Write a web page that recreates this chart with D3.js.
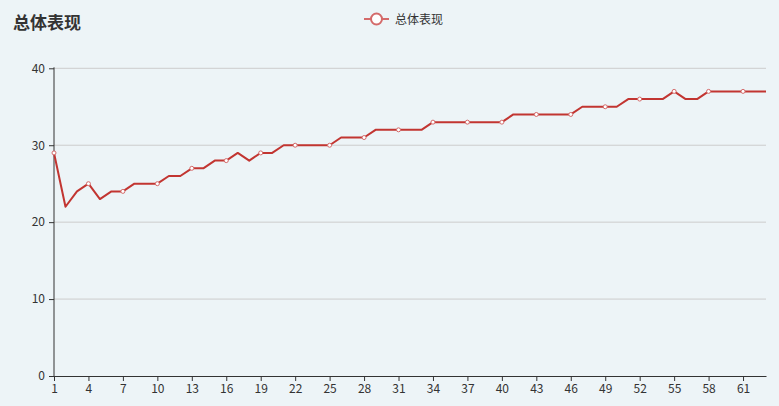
<!DOCTYPE html>
<html><head><meta charset="utf-8">
<script src="https://cdn.jsdelivr.net/npm/d3@7/dist/d3.min.js"></script>
<style>
html,body{margin:0;padding:0;background:#edf4f7;}
svg{display:block;font-family:"Microsoft YaHei","Noto Sans CJK SC",sans-serif;}
</style></head>
<body>
<svg id="chart" width="779" height="406"></svg>
<script>
const title = "总体表现";
const seriesName = "总体表现";
const categories = d3.range(1, 64).map(String);
const values = [29,22,24,25,23,24,24,25,25,25,26,26,27,27,28,28,29,28,29,29,
  30,30,30,30,30,31,31,31,32,32,32,32,32,33,33,33,33,33,33,33,
  34,34,34,34,34,34,35,35,35,35,36,36,36,36,37,36,36,37,37,37,37,37,37];
const yTicks = [0,10,20,30,40];

(function(){
const svg = d3.select("#chart");
const gLeft = 54, gRight = 766, gTop = 68.3, gBottom = 376;
const x = d3.scalePoint().domain(categories).range([gLeft, gRight]);
const y = d3.scaleLinear().domain([0, 40]).range([gBottom, gTop]);
const color = "#c23531";
const ff = "'Microsoft YaHei','Noto Sans CJK SC',sans-serif";

// grid
svg.append("g").selectAll("line").data(yTicks.filter(d => d > 0)).join("line")
  .attr("x1", gLeft).attr("x2", gRight)
  .attr("y1", d => y(d)).attr("y2", d => y(d))
  .attr("stroke", "#ccc").attr("stroke-width", 1);

// y axis
const yAxis = svg.append("g").attr("transform", `translate(${gLeft},0)`)
  .call(d3.axisLeft(y).tickValues(yTicks).tickSize(5).tickPadding(4));
yAxis.select(".domain").remove();
yAxis.selectAll("line").attr("stroke", "#333");
yAxis.selectAll("text").attr("fill", "#333").attr("font-size", 12).attr("font-family", ff);
svg.append("line").attr("x1", gLeft).attr("x2", gLeft).attr("y1", gTop - 1).attr("y2", gBottom)
  .attr("stroke", "#333");

// x axis
const xTickVals = categories.filter((d, i) => i % 3 === 0);
const xAxis = svg.append("g").attr("transform", `translate(0,${gBottom})`)
  .call(d3.axisBottom(x).tickValues(xTickVals).tickSize(5).tickPadding(3).tickSizeOuter(0));
xAxis.select(".domain").attr("stroke", "#333");
xAxis.selectAll("line").attr("stroke", "#333");
xAxis.selectAll("text").attr("fill", "#333").attr("font-size", 12).attr("font-family", ff);

// line
const line = d3.line().x((d, i) => x(categories[i])).y(d => y(d));
svg.append("path").datum(values).attr("d", line)
  .attr("fill", "none").attr("stroke", color).attr("stroke-width", 2)
  .attr("stroke-linejoin", "round");

// symbols every 3rd point
svg.append("g").selectAll("circle")
  .data(values.map((v, i) => ({v, i})).filter(d => d.i % 3 === 0))
  .join("circle")
  .attr("cx", d => x(categories[d.i])).attr("cy", d => y(d.v)).attr("r", 2)
  .attr("fill", "#fff").attr("stroke", "#d46a6a").attr("stroke-width", 1);

// title
svg.append("text").attr("x", 13).attr("y", 29).text(title)
  .attr("font-size", 17).attr("font-weight", "bold").attr("fill", "#333");

// legend
const lg = svg.append("g");
lg.append("line").attr("x1", 364).attr("x2", 389).attr("y1", 19).attr("y2", 19)
  .attr("stroke", "#d46a6a").attr("stroke-width", 2);
lg.append("circle").attr("cx", 376.5).attr("cy", 19).attr("r", 5.5)
  .attr("fill", "#fff").attr("stroke", "#d46a6a").attr("stroke-width", 2);
lg.append("text").attr("x", 395).attr("y", 23.5).text(seriesName)
  .attr("font-size", 12).attr("fill", "#333");
})();
</script>
</body></html>
